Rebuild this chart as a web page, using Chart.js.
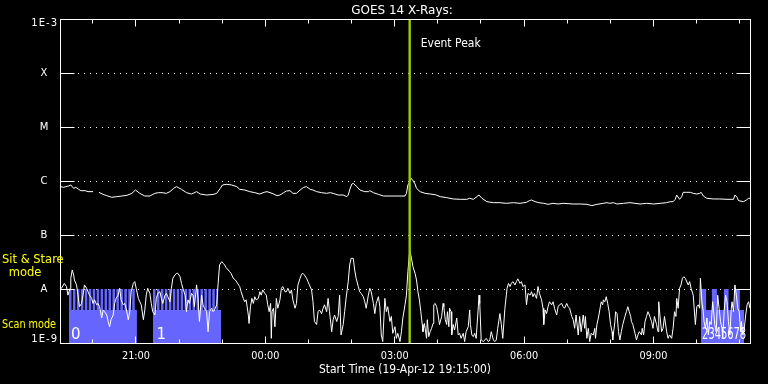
<!DOCTYPE html>
<html><head><meta charset="utf-8">
<script src="https://cdn.jsdelivr.net/npm/chart.js@4.4.1/dist/chart.umd.min.js"></script>
<style>html,body{margin:0;padding:0;background:#000;overflow:hidden}canvas{display:block}</style>
</head><body>
<canvas id="c" width="768" height="384"></canvas>
<script>
// ---- Data (time in minutes after start 19-Apr-12 19:15:00) ----
const titleText = 'GOES 14 X-Rays:';
const startLabel = 'Start Time (19-Apr-12 19:15:00)';
const yTickValues = [1e-9, 1e-8, 1e-7, 1e-6, 1e-5, 1e-4, 1e-3];
const yTickLabels = ['1E-9', 'A', 'B', 'C', 'M', 'X', '1E-3'];
const xTickMinutes = [45,105,165,225,285,345,405,465,525,585,645,705,765,825,885,945];
const xTickLabels = ['','21:00','','','00:00','','','03:00','','','06:00','','','09:00','',''];
const eventPeakMinute = 486.5;

// GOES long channel (1-8 A), W/m^2
const longT = [0,1,5,8,12,15,19,22,26,29,35,39,46,50,54,60,65,72,79,86,93,100,105,111,118,125,132,137,142,148,153,158,162,169,176,183,188,190,195,204,213,218,223,226,232,239,246,250,257,264,271,278,284,288,295,302,306,311,315,320,324,329,334,339,343,348,352,357,364,371,376,380,387,394,399,401,403,406,408,413,417,424,429,431,436,443,450,459,466,473,480,482,484,486,488,490,492,494,496,501,508,515,522,529,538,547,557,566,570,575,580,583,587,594,603,612,621,631,640,649,653,656,661,666,673,679,686,693,700,714,724,733,740,747,756,761,765,770,775,784,793,800,807,816,826,835,844,849,853,856,858,862,865,867,872,877,881,886,890,892,895,900,909,918,928,937,939,942,944,951,955,958,960];
const longFlux = [7.9e-7,7.86e-7,7.64e-7,7.86e-7,8.09e-7,8.43e-7,7.31e-7,7.64e-7,7.01e-7,6.62e-7,6.62e-7,6.35e-7,6.35e-7,null,6.17e-7,5.66e-7,5.35e-7,4.99e-7,5.13e-7,5.27e-7,5.42e-7,5.91e-7,6.81e-7,5.91e-7,5.27e-7,5.27e-7,5.91e-7,6.08e-7,6.08e-7,5.91e-7,6.35e-7,7.31e-7,7.86e-7,7.01e-7,6.08e-7,5.74e-7,6.17e-7,6.35e-7,5.74e-7,5.50e-7,5.64e-7,5.91e-7,7.31e-7,8.43e-7,8.68e-7,8.43e-7,7.86e-7,7.01e-7,6.81e-7,6.35e-7,6.08e-7,5.74e-7,6.17e-7,6.35e-7,5.91e-7,5.35e-7,5.50e-7,6.08e-7,6.53e-7,6.62e-7,5.91e-7,5.91e-7,6.81e-7,7.64e-7,7.86e-7,7.01e-7,6.81e-7,6.35e-7,6.08e-7,5.91e-7,6.08e-7,5.91e-7,5.50e-7,5.50e-7,5.13e-7,5.50e-7,6.81e-7,8.80e-7,9.06e-7,7.86e-7,6.81e-7,6.35e-7,6.35e-7,6.62e-7,6.08e-7,5.66e-7,5.27e-7,5.27e-7,5.27e-7,5.27e-7,5.27e-7,5.91e-7,8.43e-7,9.31e-7,1.12e-6,1.07e-6,9.7e-7,8.8e-7,7.31e-7,6.35e-7,5.91e-7,5.74e-7,5.58e-7,5.13e-7,4.92e-7,4.65e-7,4.58e-7,4.58e-7,4.78e-7,4.58e-7,5.13e-7,5.50e-7,4.78e-7,4.14e-7,3.97e-7,3.97e-7,3.86e-7,3.97e-7,3.86e-7,4.03e-7,4.33e-7,4.45e-7,4.14e-7,3.97e-7,3.86e-7,3.70e-7,3.86e-7,3.75e-7,3.86e-7,3.75e-7,3.75e-7,3.70e-7,3.50e-7,3.70e-7,3.86e-7,3.97e-7,3.86e-7,3.97e-7,3.75e-7,3.86e-7,3.97e-7,3.86e-7,3.75e-7,3.86e-7,3.75e-7,3.86e-7,3.97e-7,4.14e-7,4.14e-7,4.58e-7,5.50e-7,4.58e-7,5.13e-7,6.17e-7,6.17e-7,6.17e-7,5.91e-7,5.74e-7,5.91e-7,6.17e-7,5.27e-7,4.78e-7,4.65e-7,4.65e-7,4.58e-7,4.58e-7,5.50e-7,4.99e-7,4.33e-7,4.14e-7,4.45e-7,4.78e-7,4.78e-7];

// GOES short channel (0.5-4 A), W/m^2
const shortT = [0,2,6,9,11,14,15,17,19,20,23,25,27,30,32,34,37,39,41,44,46,48,51,53,55,58,60,62,65,67,69,71,74,76,78,81,83,85,88,90,92,95,97,99,102,104,106,109,111,113,116,118,120,122,125,127,129,132,134,136,139,141,143,146,148,150,153,155,157,160,162,164,167,169,171,174,176,178,180,183,185,187,190,192,194,197,199,201,204,206,208,211,213,215,218,220,222,225,227,229,231,234,236,238,241,244,
250,252,255,257,259,262,263,265,267,269,271,273,276,278,280,282,285,287,289,291,293,294,295,297,299,301,303,306,308,310,313,315,317,320,322,324,327,329,331,334,336,338,340,343,345,347,350,352,354,357,359,361,364,366,368,371,373,375,378,380,382,385,387,389,391,394,396,398,401,403,405,408,410,412,415,417,419,422,424,426,429,431,433,436,438,440,443,445,447,449,452,454,456,459,461,463,466,468,470,473,475,477,480,482,484,486,
487,489,491,494,496,498,500,502,504,505,507,508,510,511,513,515,517,519,520,522,524,526,528,531,533,534,536,538,539,541,542,544,545,547,549,552,554,556,558,561,563,565,568,570,571,573,575,577,579,582,583,584,586,589,591,593,596,598,600,603,605,607,609,612,614,616,619,621,622,624,626,628,630,633,635,637,640,642,644,647,649,651,654,656,658,660,663,665,667,670,672,673,675,677,679,681,684,686,688,691,693,695,698,700,702,705,707,709,712,714,716,718,721,723,725,728,730,
731,733,735,737,739,742,744,745,747,749,751,753,755,756,758,760,762,764,766,768,769,772,773,775,777,779,781,783,786,788,790,792,794,795,797,800,802,804,806,809,810,812,814,816,818,820,823,825,827,830,832,833,835,837,839,841,844,846,848,851,853,855,857,858,860,862,864,866,868,870,871,874,876,878,881,883,884,886,888,890,891,893,895,896,898,900,902,904,906,908,909,911,913,915,917,919,921,922,924,926,928,930,932,934,935,937,939,941,943,945,947,948,950,952,954,956,958,960];
const shortFlux = [1.0e-8,1.03e-8,1.27e-8,1.11e-8,7.7e-9,1.03e-8,1.58e-8,2.25e-8,1.82e-8,1.47e-8,1.19e-8,7.7e-9,4.7e-9,5.4e-9,7.7e-9,1.19e-8,1.03e-8,8.9e-9,7.7e-9,6.7e-9,5.4e-9,6.3e-9,5.1e-9,5.4e-9,4.7e-9,2.9e-9,4.1e-9,3.8e-9,3.3e-9,2.5e-9,2.0e-9,2.7e-9,3.3e-9,5.4e-9,6.7e-9,7.7e-9,1.03e-8,6.3e-9,5.1e-9,5.4e-9,4.4e-9,2.7e-9,3.8e-9,8.9e-9,1.27e-8,1.37e-8,1.03e-8,6.7e-9,5.8e-9,5.1e-9,2.7e-9,4.1e-9,7.7e-9,1.03e-8,8.3e-9,5.4e-9,3.8e-9,3.3e-9,6.7e-9,8.3e-9,8.9e-9,6.7e-9,5.4e-9,7.7e-9,8.3e-9,7.2e-9,5.8e-9,1.03e-8,1.58e-8,1.82e-8,1.95e-8,1.95e-8,1.69e-8,1.27e-8,1.03e-8,7.7e-9,3.8e-9,6.3e-9,5.4e-9,8.3e-9,7.7e-9,4.7e-9,1.19e-8,6.7e-9,2.5e-9,7.7e-9,5.1e-9,4.4e-9,3.8e-9,1.62e-9,3.8e-9,4.4e-9,3.8e-9,4.1e-9,5.1e-9,1.27e-8,2.79e-8,3.21e-8,2.99e-8,2.79e-8,2.49e-8,2.25e-8,2.09e-8,1.95e-8,1.58e-8,1.47e-8,
1.11e-8,8.9e-9,6.7e-9,5.8e-9,6.3e-9,3.3e-9,2.3e-9,4.7e-9,6.7e-9,5.4e-9,7.2e-9,6.3e-9,6.7e-9,8.9e-9,7.7e-9,9.6e-9,8.3e-9,7.7e-9,5.1e-9,3.8e-9,5.4e-9,1.22e-9,3.8e-9,4.4e-9,2.0e-9,6.7e-9,4.4e-9,6.3e-9,1.03e-8,1.11e-8,8.9e-9,8.9e-9,1.03e-8,8.3e-9,9.6e-9,6.3e-9,4.4e-9,5.4e-9,1.19e-8,1.58e-8,1.87e-8,1.95e-8,1.82e-8,1.58e-8,1.37e-8,1.19e-8,9.6e-9,5.8e-9,2.5e-9,2.2e-9,3.8e-9,4.1e-9,3.5e-9,4.4e-9,5.1e-9,3.8e-9,6.7e-9,3.8e-9,1.62e-9,2.7e-9,3.3e-9,2.5e-9,3.1e-9,7.7e-9,1.41e-9,2.2e-9,3.8e-9,6.7e-9,1.37e-8,2.79e-8,3.70e-8,3.70e-8,2.25e-8,1.58e-8,1.11e-8,8.9e-9,8.3e-9,7.2e-9,5.8e-9,4.4e-9,7.7e-9,1.03e-8,8.9e-9,5.4e-9,3.5e-9,5.4e-9,7.2e-9,4.7e-9,1.41e-9,1.06e-9,6.7e-9,3.8e-9,4.7e-9,2.5e-9,3.1e-9,1.51e-9,2.0e-9,1.22e-9,1.51e-9,1.06e-9,1.62e-9,2.9e-9,5.1e-9,7.7e-9,2.09e-8,4.3e-8,
4.9e-8,3.7e-8,2.6e-8,1.95e-8,1.47e-8,8.9e-9,6.3e-9,3.8e-9,2.2e-9,1.62e-9,2.3e-9,1.87e-9,1.22e-9,2.7e-9,1.31e-9,1.62e-9,1.87e-9,2.3e-9,5.1e-9,5.4e-9,4.7e-9,3.3e-9,2.2e-9,3.1e-9,5.4e-9,4.7e-9,2.7e-9,2.2e-9,3.8e-9,2.0e-9,4.4e-9,3.8e-9,1.41e-9,2.2e-9,1.74e-9,2.9e-9,1.41e-9,1.51e-9,1.22e-9,1.51e-9,1.06e-9,1.62e-9,2.0e-9,4.1e-9,2.2e-9,1.41e-9,1.31e-9,1.51e-9,1.22e-9,4.7e-9,7.7e-9,5.4e-9,1.14e-9,1.06e-9,1.14e-9,1.22e-9,1.06e-9,1.14e-9,1.62e-9,1.14e-9,1.06e-9,1.14e-9,1.87e-9,3.5e-9,2.2e-9,1.22e-9,4.4e-9,7.7e-9,1.03e-8,1.27e-8,1.11e-8,1.27e-8,1.37e-8,1.19e-8,1.37e-8,1.54e-8,1.27e-8,1.37e-8,1.11e-8,1.19e-8,5.1e-9,8.3e-9,7.7e-9,8.9e-9,7.2e-9,8.3e-9,6.7e-9,1.11e-8,8.3e-9,6.3e-9,4.4e-9,2.2e-9,4.1e-9,3.5e-9,4.7e-9,5.8e-9,5.1e-9,5.8e-9,4.4e-9,3.3e-9,4.7e-9,5.1e-9,5.4e-9,4.7e-9,4.4e-9,5.4e-9,4.7e-9,4.4e-9,3.1e-9,2.7e-9,1.87e-9,3.3e-9,1.41e-9,3.1e-9,1.62e-9,3.3e-9,1.87e-9,
3.1e-9,1.22e-9,1.87e-9,1.06e-9,1.51e-9,1.41e-9,1.87e-9,1.22e-9,2.2e-9,2.9e-9,4.1e-9,5.8e-9,5.1e-9,6.3e-9,5.8e-9,7.2e-9,5.4e-9,3.8e-9,2.2e-9,1.62e-9,1.14e-9,2.5e-9,3.8e-9,3.5e-9,1.62e-9,1.14e-9,1.62e-9,2.2e-9,3.1e-9,3.8e-9,4.7e-9,3.8e-9,3.1e-9,2.5e-9,2.2e-9,1.51e-9,1.14e-9,1.41e-9,1.62e-9,1.41e-9,1.87e-9,1.41e-9,2.5e-9,3.1e-9,3.8e-9,3.3e-9,2.5e-9,1.87e-9,3.1e-9,2.2e-9,1.62e-9,5.8e-9,2.9e-9,1.62e-9,1.87e-9,3.1e-9,1.62e-9,1.22e-9,1.41e-9,1.22e-9,1.87e-9,3.8e-9,3.1e-9,6.7e-9,4.4e-9,1.03e-8,1.19e-8,1.58e-8,1.69e-8,1.58e-8,1.47e-8,1.19e-8,1.37e-8,1.03e-8,7.7e-9,3.3e-9,2.2e-9,4.7e-9,5.1e-9,4.4e-9,1.58e-8,5.8e-9,3.8e-9,2.5e-9,1.87e-9,2.9e-9,1.41e-9,2.5e-9,2.2e-9,5.8e-9,4.4e-9,2.2e-9,1.62e-9,7.7e-9,4.4e-9,2.5e-9,1.87e-9,1.22e-9,3.8e-9,7.7e-9,5.8e-9,2.5e-9,1.41e-9,4.4e-9,5.8e-9,3.8e-9,1.19e-8,7.7e-9,4.4e-9,3.8e-9,1.62e-9,2.5e-9,1.41e-9,1.87e-9,3.3e-9,5.1e-9,5.8e-9,4.4e-9];

// Instrument mode: 1 = Sit & Stare, 0 = Scan, null = no observation
const modeT = [12.5,16.0,18.0,21.5,23.5,27.0,29.0,32.5,34.5,38.0,40.0,43.5,45.5,49.0,51.0,54.5,56.5,60.0,62.0,65.5,67.5,71.0,73.0,76.5,78.5,82.0,84.0,87.5,89.5,93.0,95.0,98.5,100.5,104.0,107.0,107.1,
129.4,132.9,134.9,138.4,140.4,143.9,145.9,149.4,151.4,154.9,156.9,160.4,162.4,165.9,167.9,171.4,173.4,176.9,178.9,182.4,184.4,187.9,189.9,193.4,195.4,198.9,200.9,204.4,206.4,209.9,211.9,215.4,217.4,220.0,224.0,224.1,
891.6,899.0,906.9,913.9,923.6,930.2,938.5,945.9,951.9,952.0];
const modeState = [1,0,1,0,1,0,1,0,1,0,1,0,1,0,1,0,1,0,1,0,1,0,1,0,1,0,1,0,1,0,1,0,1,0,0,null,
1,0,1,0,1,0,1,0,1,0,1,0,1,0,1,0,1,0,1,0,1,0,1,0,1,0,1,0,1,0,1,0,1,0,0,null,
1,0,1,0,1,0,1,0,0,null];
const modeLevelFlux = [4.1e-9, 1e-8]; // scan, sit & stare
const scanNumbers = [{t: 14, text: '0'}, {t: 133, text: '1'}, {t: 892, text: '2345678'}];

// ---- Build ----
const pts = (ts, vs) => ts.map((t, i) => ({x: t, y: vs[i]}));
const modeData = modeT.map((t, i) => ({x: t, y: modeState[i] === null ? null : modeLevelFlux[modeState[i]]}));

const FONT = '"DejaVu Sans", sans-serif';
const goesPlugin = {
  id: 'goes',
  beforeDraw(chart) {
    const ctx = chart.ctx;
    ctx.save(); ctx.fillStyle = '#000'; ctx.fillRect(0, 0, chart.width, chart.height); ctx.restore();
  },
  beforeDatasetsDraw(chart) {
    const ctx = chart.ctx, a = chart.chartArea, ys = chart.scales.y;
    ctx.save();
    ctx.strokeStyle = '#fff'; ctx.lineWidth = 1; ctx.setLineDash([1, 5]);
    yTickValues.forEach(v => {
      if (v === 1e-9 || v === 1e-3) return;
      const y = Math.round(ys.getPixelForValue(v)) + 0.5;
      ctx.beginPath(); ctx.moveTo(a.left + 18, y); ctx.lineTo(a.right - 14, y); ctx.stroke();
    });
    ctx.restore();
  },
  afterDatasetsDraw(chart) {
    const ctx = chart.ctx, a = chart.chartArea, xs = chart.scales.x, ys = chart.scales.y;
    ctx.save();
    // event peak line
    const ex = xs.getPixelForValue(eventPeakMinute);
    ctx.strokeStyle = '#9ccc00'; ctx.lineWidth = 2.4;
    ctx.beginPath(); ctx.moveTo(ex, a.top); ctx.lineTo(ex, a.bottom); ctx.stroke();
    // scan numbers
    ctx.fillStyle = '#fff'; ctx.textAlign = 'left'; ctx.textBaseline = 'alphabetic';
    ctx.font = '15px ' + FONT;
    scanNumbers.forEach(s => {
      const x = xs.getPixelForValue(s.t) + 1;
      if (s.text.length > 1) ctx.fillText(s.text, x, a.bottom - 4, 44); else ctx.fillText(s.text, x, a.bottom - 4);
    });
    // frame
    ctx.strokeStyle = '#fff'; ctx.lineWidth = 1;
    const L = Math.round(a.left) + 0.5, R = Math.round(a.right) + 0.5, T = Math.round(a.top) + 0.5, B = Math.round(a.bottom) + 0.5;
    ctx.strokeRect(L, T, R - L, B - T);
    // y ticks
    ctx.beginPath();
    yTickValues.forEach(v => {
      const y = Math.round(ys.getPixelForValue(v)) + 0.5;
      ctx.moveTo(L, y); ctx.lineTo(L + 14, y);
      ctx.moveTo(R, y); ctx.lineTo(R - 14, y);
    });
    // x ticks
    xTickMinutes.forEach((m, i) => {
      const x = Math.round(xs.getPixelForValue(m)) + 0.5;
      const len = xTickLabels[i] ? 7 : 4;
      ctx.moveTo(x, T); ctx.lineTo(x, T + len);
      ctx.moveTo(x, B); ctx.lineTo(x, B - len);
    });
    ctx.stroke();
    // y labels
    ctx.fillStyle = '#fff'; ctx.font = '10px ' + FONT; ctx.textBaseline = 'middle';
    yTickValues.forEach((v, i) => {
      let y = ys.getPixelForValue(v);
      const lab = yTickLabels[i];
      if (lab.length > 1) {
        if (y < a.top + 4) y = a.top + 4.5;
        if (y > a.bottom - 4) y = a.bottom - 3.5;
        ctx.textAlign = 'right';
        ctx.letterSpacing = '1px';
        ctx.fillText(lab, 58, y);
        ctx.letterSpacing = '0px';
      } else {
        ctx.textAlign = 'center';
        ctx.fillText(lab, 44, y + 0.5);
      }
    });
    // x labels
    ctx.textBaseline = 'alphabetic'; ctx.textAlign = 'center'; ctx.font = '11px ' + FONT;
    xTickMinutes.forEach((m, i) => {
      if (!xTickLabels[i]) return;
      ctx.fillText(xTickLabels[i], xs.getPixelForValue(m) + 0.5, 359, 28);
    });
    ctx.font = '12px ' + FONT;
    ctx.fillText(startLabel, 405, 373, 172);
    // title
    ctx.font = '12px ' + FONT;
    ctx.fillText(titleText, 402, 14);
    // event label
    ctx.textAlign = 'left'; ctx.font = '11.5px ' + FONT;
    ctx.fillText('Event Peak', ex + 11, 47, 60);
    // mode labels
    ctx.fillStyle = '#ffff00'; ctx.font = '11.5px ' + FONT;
    ctx.fillText('Sit & Stare', 2, 263, 66);
    ctx.textAlign = 'center';
    ctx.fillText('mode', 25, 276);
    ctx.textAlign = 'left';
    ctx.font = '12px ' + FONT;
    ctx.fillText('Scan mode', 2, 328, 54);
    ctx.restore();
  }
};

new Chart(document.getElementById('c'), {
  type: 'line',
  data: {
    datasets: [
      {label: 'GOES 14 0.5-4.0 A', data: pts(shortT, shortFlux), borderColor: '#fff', borderWidth: 1, pointRadius: 0, tension: 0, fill: false},
      {label: 'GOES 14 1.0-8.0 A', data: pts(longT, longFlux), borderColor: '#fff', borderWidth: 1, pointRadius: 0, tension: 0, fill: false, spanGaps: false},
      {label: 'Mode', data: modeData, borderWidth: 0, borderColor: 'rgba(0,0,0,0)', backgroundColor: '#6666ff', pointRadius: 0, stepped: true, fill: 'start', spanGaps: false}
    ]
  },
  options: {
    responsive: false, devicePixelRatio: 1, animation: false,
    layout: {padding: {left: 60, top: 19, right: 18, bottom: 41}},
    plugins: {legend: {display: false}, tooltip: {enabled: false}},
    scales: {
      x: {type: 'linear', min: 0, max: 960, display: false},
      y: {type: 'logarithmic', min: 1e-9, max: 1e-3, display: false}
    }
  },
  plugins: [goesPlugin]
});
</script></body></html>
